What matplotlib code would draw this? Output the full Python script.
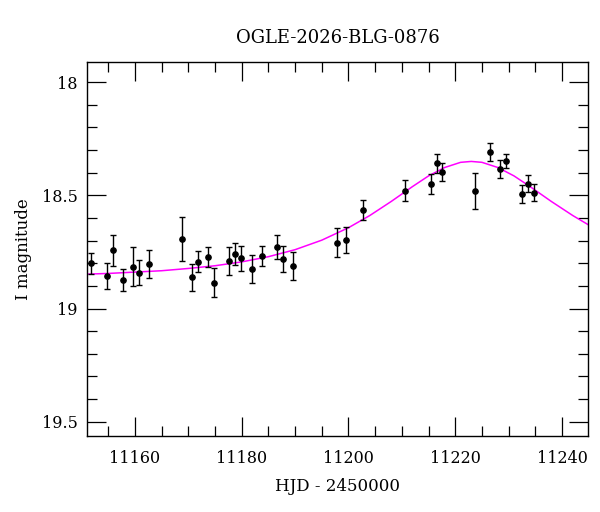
import matplotlib
matplotlib.use("Agg")
import matplotlib.pyplot as plt
from matplotlib.ticker import MultipleLocator

plt.rcParams['font.family'] = ['DejaVu Serif']

# Observed photometry
hjd = [11151.87, 11154.76, 11155.94, 11157.75, 11159.68, 11160.86, 11162.73,
       11168.86, 11170.73, 11171.80, 11173.67, 11174.85, 11177.66, 11178.72,
       11179.85, 11181.91, 11183.78, 11186.70, 11187.82, 11189.64, 11197.82,
       11199.51, 11202.80, 11210.55, 11215.48, 11216.60, 11217.59, 11223.66,
       11226.58, 11228.45, 11229.52, 11232.51, 11233.64, 11234.71]
mag = [18.800, 18.856, 18.742, 18.874, 18.815, 18.841, 18.804,
       18.692, 18.862, 18.793, 18.773, 18.887, 18.788, 18.760,
       18.778, 18.825, 18.768, 18.728, 18.782, 18.813, 18.710,
       18.696, 18.563, 18.479, 18.449, 18.358, 18.396, 18.479,
       18.309, 18.382, 18.349, 18.495, 18.448, 18.488]
err = [0.047, 0.057, 0.068, 0.050, 0.085, 0.054, 0.063,
       0.096, 0.060, 0.047, 0.043, 0.064, 0.062, 0.048,
       0.055, 0.063, 0.046, 0.051, 0.057, 0.062, 0.064,
       0.058, 0.044, 0.045, 0.045, 0.043, 0.041, 0.079,
       0.039, 0.040, 0.032, 0.039, 0.038, 0.038]

# Model curve
model_t = [11151, 11155, 11160, 11165, 11170, 11175, 11180, 11185, 11190,
           11195, 11200, 11204, 11208, 11212, 11215, 11218, 11221, 11223,
           11225, 11228, 11231, 11234, 11238, 11242, 11245]
model_m = [18.848, 18.845, 18.839, 18.833, 18.823, 18.811, 18.794, 18.771, 18.740,
           18.698, 18.643, 18.589, 18.527, 18.461, 18.414, 18.377, 18.354, 18.350,
           18.354, 18.377, 18.414, 18.461, 18.527, 18.589, 18.631]

title = "OGLE-2026-BLG-0876"
xlabel = "HJD - 2450000"
ylabel = "I magnitude"

fig = plt.figure(figsize=(6.0, 5.12), dpi=100)
ax = fig.add_axes([0.1455, 0.149, 0.834, 0.7293])

ax.plot(model_t, model_m, color='#ff00ff', lw=1.1, zorder=2)
ax.errorbar(hjd, mag, yerr=err, fmt='o', color='black', ms=3.8,
            elinewidth=1.0, capsize=2.2, capthick=1.0, zorder=3)

ax.set_xlim(11151.1, 11244.8)
ax.set_ylim(19.562, 17.912)

ax.xaxis.set_major_locator(MultipleLocator(20))
ax.xaxis.set_minor_locator(MultipleLocator(5))
ax.yaxis.set_major_locator(MultipleLocator(0.5))
ax.yaxis.set_minor_locator(MultipleLocator(0.1))
ax.yaxis.set_major_formatter(plt.FuncFormatter(lambda v, p: f"{v:g}"))

ax.tick_params(which='both', direction='in', top=True, right=True, labelsize=11.5)
ax.tick_params(which='major', length=13.7, width=0.9)
ax.tick_params(which='minor', length=7, width=0.9)
ax.tick_params(axis='x', which='major', pad=10)
ax.tick_params(axis='y', which='major', pad=7)
for s in ax.spines.values():
    s.set_linewidth(1.0)

ax.set_title(title, fontsize=13, pad=14)
ax.set_xlabel(xlabel, fontsize=12, labelpad=8)
ax.set_ylabel(ylabel, fontsize=12, labelpad=7)

fig.savefig("out.png", dpi=100)
